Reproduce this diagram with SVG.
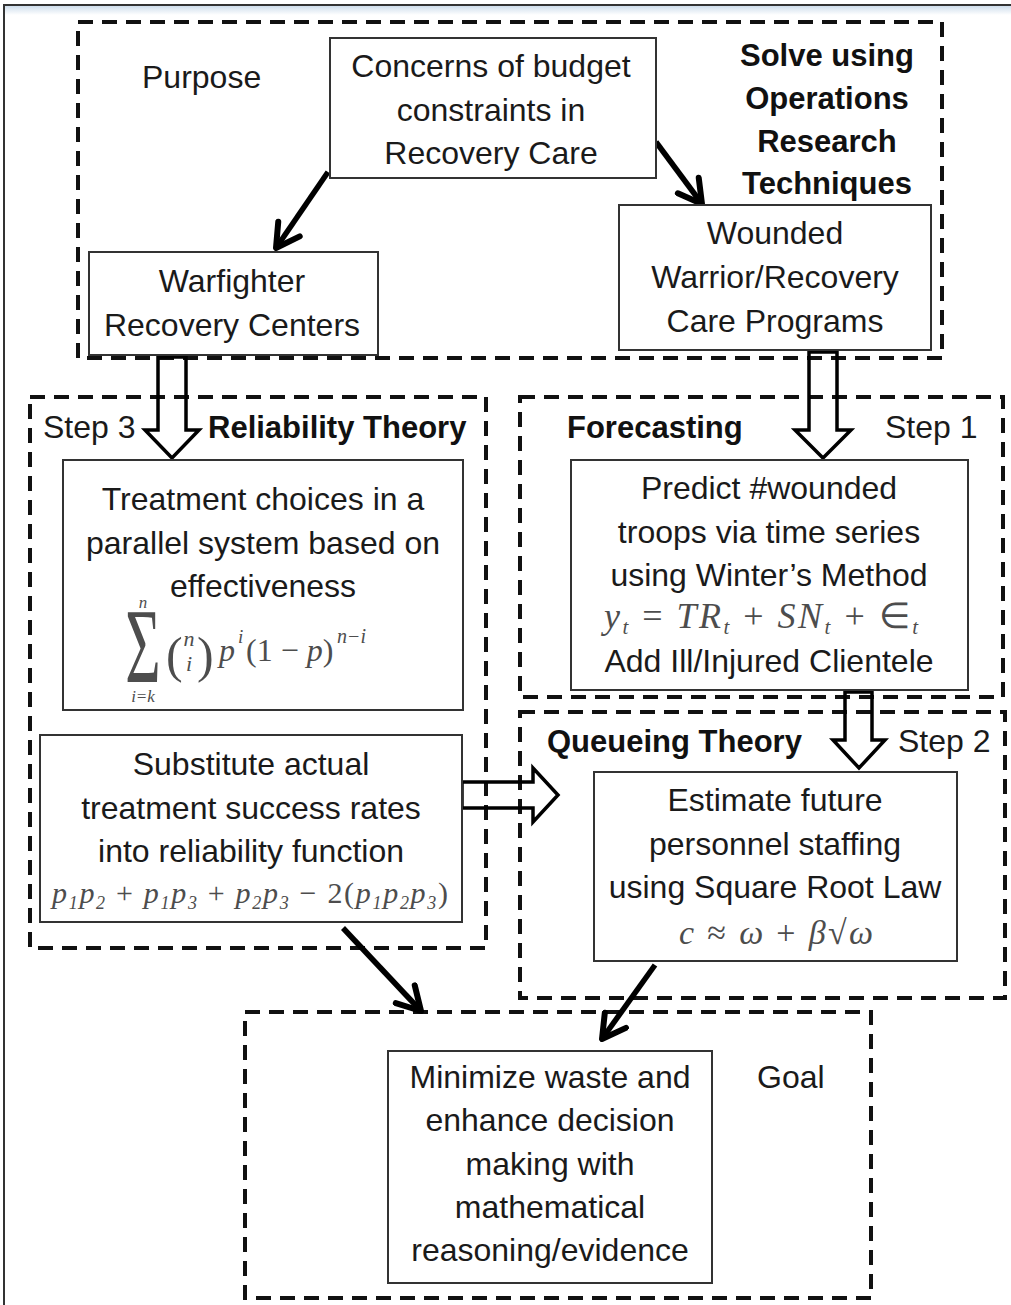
<svg xmlns="http://www.w3.org/2000/svg" width="1011" height="1305" viewBox="0 0 1011 1305">
<defs>
<linearGradient id="band" x1="0" y1="0" x2="0" y2="1">
<stop offset="0" stop-color="#cfdeec"/>
<stop offset="1" stop-color="#ffffff"/>
</linearGradient>
<marker id="ah" viewBox="0 0 32 32" refX="28" refY="16" markerUnits="userSpaceOnUse" markerWidth="32" markerHeight="32" orient="auto">
<path d="M5,3 L28,16 L5,29" fill="none" stroke="#000" stroke-width="6" stroke-linecap="round" stroke-linejoin="round"/>
</marker>
<style>
.t{font-family:"Liberation Sans",Arial,sans-serif;font-size:32px;fill:#1a1a1a;text-anchor:middle}
.l{font-family:"Liberation Sans",Arial,sans-serif;font-size:32px;fill:#1a1a1a}
.b{font-family:"Liberation Sans",Arial,sans-serif;font-size:31px;font-weight:bold;fill:#111}
.m{font-family:"Liberation Serif","Times New Roman",serif;font-style:italic;fill:#4d4d4d}
.mr{font-family:"Liberation Serif","Times New Roman",serif;font-style:normal;fill:#4d4d4d}
.box{fill:#fff;stroke:#333;stroke-width:2}
.dash{fill:none;stroke:#111;stroke-width:4;stroke-dasharray:15 9}
.blk{fill:none;stroke:#000;stroke-width:3.5;stroke-linejoin:miter}
.con{fill:none;stroke:#000;stroke-width:5.5}
</style>
</defs>
<rect x="0" y="0" width="1011" height="1305" fill="#fff"/>
<rect x="5" y="6" width="1006" height="9" fill="url(#band)"/>
<path d="M4,1305 V5 H1011" fill="none" stroke="#333" stroke-width="2"/>

<g id="groups">
<rect id="g-purpose" class="dash" x="78" y="22" width="864" height="336"/>
<rect id="g-step3" class="dash" x="30" y="397" width="456" height="551"/>
<rect id="g-step1" class="dash" x="520" y="397" width="483" height="300"/>
<rect id="g-step2" class="dash" x="520" y="712" width="485" height="286"/>
<rect id="g-goal" class="dash" x="245" y="1012" width="626" height="286"/>
</g>

<g id="connectors">
<line class="con" x1="328" y1="172" x2="276" y2="248" marker-end="url(#ah)"/>
<line class="con" x1="656" y1="142" x2="702" y2="204" marker-end="url(#ah)"/>
<line class="con" x1="343" y1="928" x2="421" y2="1011" marker-end="url(#ah)"/>
<line class="con" x1="655" y1="965" x2="602" y2="1039" marker-end="url(#ah)"/>
<polygon class="blk" points="158,357 186,357 186,430 199,430 172,458 145,430 158,430"/>
<polygon class="blk" points="809,352 837,352 837,430 851,430 823,458 795,430 809,430"/>
<polygon class="blk" points="845,692 872,692 872,740 885,740 859,768 833,740 845,740"/>
<polygon class="blk" points="462,782 533,782 533,768 558,795 533,822 533,808 462,808"/>
</g>

<g id="labels">
<text class="l" x="142" y="88">Purpose</text>
<text class="b" x="827" y="66" text-anchor="middle">Solve using</text>
<text class="b" x="827" y="109" text-anchor="middle">Operations</text>
<text class="b" x="827" y="152" text-anchor="middle">Research</text>
<text class="b" x="827" y="194" text-anchor="middle">Techniques</text>
<text class="l" x="43" y="438">Step 3</text>
<text class="b" x="208" y="438">Reliability Theory</text>
<text class="b" x="567" y="438">Forecasting</text>
<text class="l" x="885" y="438">Step 1</text>
<text class="b" x="547" y="752">Queueing Theory</text>
<text class="l" x="898" y="752">Step 2</text>
<text class="l" x="757" y="1088">Goal</text>
</g>

<g id="n-concerns">
<rect class="box" x="330" y="38" width="326" height="140"/>
<text class="t" x="491" y="77">Concerns of budget</text>
<text class="t" x="491" y="121">constraints in</text>
<text class="t" x="491" y="164">Recovery Care</text>
</g>

<g id="n-warfighter">
<rect class="box" x="89" y="252" width="289" height="103"/>
<text class="t" x="232" y="292">Warfighter</text>
<text class="t" x="232" y="336">Recovery Centers</text>
</g>

<g id="n-wounded">
<rect class="box" x="619" y="205" width="312" height="145"/>
<text class="t" x="775" y="244">Wounded</text>
<text class="t" x="775" y="288">Warrior/Recovery</text>
<text class="t" x="775" y="332">Care Programs</text>
</g>

<g id="n-treatment">
<rect class="box" x="63" y="460" width="400" height="250"/>
<text class="t" x="263" y="510">Treatment choices in a</text>
<text class="t" x="263" y="554">parallel system based on</text>
<text class="t" x="263" y="597">effectiveness</text>
<text class="mr" font-size="76" text-anchor="middle" transform="translate(143,682) scale(0.8,1.4)">Σ</text>
<text class="m" font-size="17" x="143" y="608" text-anchor="middle">n</text>
<text class="m" font-size="17" x="143" y="702" text-anchor="middle">i=k</text>
<text class="mr" font-size="50" x="166" y="672">(</text>
<text class="m" font-size="22" x="189" y="646" text-anchor="middle">n</text>
<text class="m" font-size="22" x="189" y="671" text-anchor="middle">i</text>
<text class="mr" font-size="50" x="197" y="672">)</text>
<text class="m" font-size="32" x="219" y="661">p</text>
<text class="m" font-size="19" x="238" y="643">i</text>
<text class="mr" font-size="32" x="246" y="661">(1 − <tspan class="m">p</tspan>)</text>
<text class="m" font-size="20" x="337" y="643">n−i</text>
</g>

<g id="n-substitute">
<rect class="box" x="40" y="735" width="422" height="187"/>
<text class="t" x="251" y="775">Substitute actual</text>
<text class="t" x="251" y="819">treatment success rates</text>
<text class="t" x="251" y="862">into reliability function</text>
<text class="m" font-size="30" x="52" y="903" textLength="396" lengthAdjust="spacing">p<tspan font-size="18" dy="6">1</tspan><tspan dy="-6">p</tspan><tspan font-size="18" dy="6">2</tspan><tspan class="mr" dy="-6"> + </tspan>p<tspan font-size="18" dy="6">1</tspan><tspan dy="-6">p</tspan><tspan font-size="18" dy="6">3</tspan><tspan class="mr" dy="-6"> + </tspan>p<tspan font-size="18" dy="6">2</tspan><tspan dy="-6">p</tspan><tspan font-size="18" dy="6">3</tspan><tspan class="mr" dy="-6"> − 2(</tspan>p<tspan font-size="18" dy="6">1</tspan><tspan dy="-6">p</tspan><tspan font-size="18" dy="6">2</tspan><tspan dy="-6">p</tspan><tspan font-size="18" dy="6">3</tspan><tspan class="mr" dy="-6">)</tspan></text>
</g>

<g id="n-predict">
<rect class="box" x="571" y="460" width="397" height="230"/>
<text class="t" x="769" y="499">Predict #wounded</text>
<text class="t" x="769" y="543">troops via time series</text>
<text class="t" x="769" y="586">using Winter’s Method</text>
<text class="m" font-size="36" x="604" y="628" textLength="314" lengthAdjust="spacing">y<tspan font-size="21" dy="6">t</tspan><tspan class="mr" dy="-6"> =  </tspan>TR<tspan font-size="21" dy="6">t</tspan><tspan class="mr" dy="-6"> +  </tspan>SN<tspan font-size="21" dy="6">t</tspan><tspan class="mr" dy="-6"> + ∈</tspan><tspan font-size="21" dy="6">t</tspan></text>
<text class="t" x="769" y="672">Add Ill/Injured Clientele</text>
</g>

<g id="n-estimate">
<rect class="box" x="594" y="772" width="363" height="189"/>
<text class="t" x="775" y="811">Estimate future</text>
<text class="t" x="775" y="855">personnel staffing</text>
<text class="t" x="775" y="898">using Square Root Law</text>
<text class="m" font-size="34" x="679" y="944" textLength="194" lengthAdjust="spacing">c <tspan class="mr">≈</tspan> ω <tspan class="mr">+</tspan> β<tspan class="mr">√</tspan>ω</text>
</g>

<g id="n-goal">
<rect class="box" x="388" y="1051" width="324" height="232"/>
<text class="t" x="550" y="1088">Minimize waste and</text>
<text class="t" x="550" y="1131">enhance decision</text>
<text class="t" x="550" y="1175">making with</text>
<text class="t" x="550" y="1218">mathematical</text>
<text class="t" x="550" y="1261">reasoning/evidence</text>
</g>
</svg>
